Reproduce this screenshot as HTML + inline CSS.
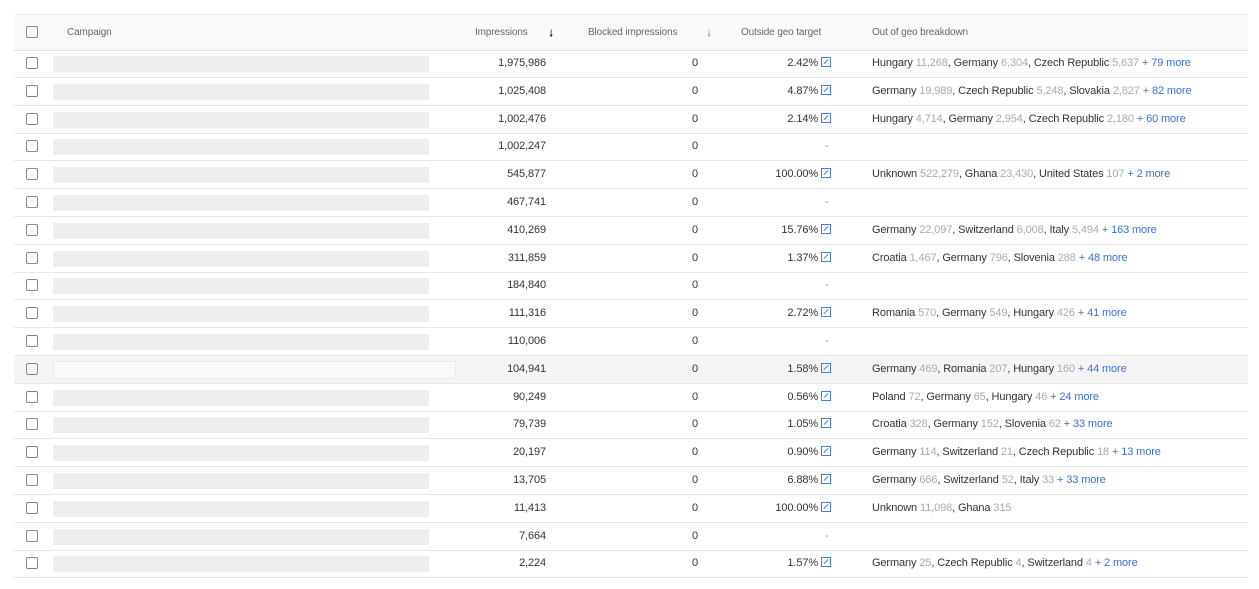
<!DOCTYPE html>
<html><head><style>
body{margin:0;width:1259px;height:589px;background:#fff;font-family:"Liberation Sans",Arial,sans-serif;font-size:11px;color:#333;position:relative;overflow:hidden}
.hdr{position:absolute;left:14px;top:14px;width:1234px;height:35px;background:#fafafa;border-top:1px solid #eee;border-bottom:1px solid #e0e0e0}
.row{position:absolute;left:14px;width:1234px;height:27px;border-bottom:1px solid #e6e6e6}
.row.hl{background:#f5f5f5}
.cb{position:absolute;left:12px;top:7px;width:10px;height:10px;border:1.5px solid #888;border-radius:2px}
.bar{position:absolute;left:39px;top:6px;width:376px;height:16px;background:#eeeeee}
.hl .bar{width:401px;background:#f9f9f9;border:1px solid #eaeaea;top:5px}
.t{position:absolute;top:7px;white-space:nowrap;letter-spacing:-0.12px}
.h{color:#666;font-size:10px;top:12px}
.r{text-align:right}
.g{color:#aaa}
.b{color:#3c6fd8}
.ic{display:inline-block;width:8px;height:8px;border:1px solid #4a7be0;margin-left:3px;vertical-align:-1px;position:relative}
.ic:after{content:"";position:absolute;left:1px;top:3px;width:6px;height:1px;background:#4a7be0;transform:rotate(-45deg)}
</style></head><body>
<div class="hdr">
<div class="cb" style="top:11px"></div>
<div class="t h" style="left:53px">Campaign</div>
<div class="t h" style="left:461px">Impressions</div>
<div class="t h" style="left:535px;color:#333">🠗</div>
<div class="t h" style="left:574px">Blocked impressions</div>
<div class="t h" style="left:693px;color:#aaa">🠗</div>
<div class="t h" style="left:727px">Outside geo target</div>
<div class="t h" style="left:858px">Out of geo breakdown</div>
</div>
<div id="rows"></div>
<script>
var d=[["1,975,986","2.42%",'Hungary <span class=g>11,268</span>, Germany <span class=g>6,304</span>, Czech Republic <span class=g>5,637</span> <span class=b>+ 79 more</span>'],
["1,025,408","4.87%",'Germany <span class=g>19,989</span>, Czech Republic <span class=g>5,248</span>, Slovakia <span class=g>2,827</span> <span class=b>+ 82 more</span>'],
["1,002,476","2.14%",'Hungary <span class=g>4,714</span>, Germany <span class=g>2,954</span>, Czech Republic <span class=g>2,180</span> <span class=b>+ 60 more</span>'],
["1,002,247","",""],
["545,877","100.00%",'Unknown <span class=g>522,279</span>, Ghana <span class=g>23,430</span>, United States <span class=g>107</span> <span class=b>+ 2 more</span>'],
["467,741","",""],
["410,269","15.76%",'Germany <span class=g>22,097</span>, Switzerland <span class=g>6,008</span>, Italy <span class=g>5,494</span> <span class=b>+ 163 more</span>'],
["311,859","1.37%",'Croatia <span class=g>1,467</span>, Germany <span class=g>796</span>, Slovenia <span class=g>288</span> <span class=b>+ 48 more</span>'],
["184,840","",""],
["111,316","2.72%",'Romania <span class=g>570</span>, Germany <span class=g>549</span>, Hungary <span class=g>426</span> <span class=b>+ 41 more</span>'],
["110,006","",""],
["104,941","1.58%",'Germany <span class=g>469</span>, Romania <span class=g>207</span>, Hungary <span class=g>160</span> <span class=b>+ 44 more</span>'],
["90,249","0.56%",'Poland <span class=g>72</span>, Germany <span class=g>65</span>, Hungary <span class=g>46</span> <span class=b>+ 24 more</span>'],
["79,739","1.05%",'Croatia <span class=g>328</span>, Germany <span class=g>152</span>, Slovenia <span class=g>62</span> <span class=b>+ 33 more</span>'],
["20,197","0.90%",'Germany <span class=g>114</span>, Switzerland <span class=g>21</span>, Czech Republic <span class=g>18</span> <span class=b>+ 13 more</span>'],
["13,705","6.88%",'Germany <span class=g>666</span>, Switzerland <span class=g>52</span>, Italy <span class=g>33</span> <span class=b>+ 33 more</span>'],
["11,413","100.00%",'Unknown <span class=g>11,098</span>, Ghana <span class=g>315</span>'],
["7,664","",""],
["2,224","1.57%",'Germany <span class=g>25</span>, Czech Republic <span class=g>4</span>, Switzerland <span class=g>4</span> <span class=b>+ 2 more</span>']];
var h="";
d.forEach(function(r,i){
var top=50+i*27.8;
h+='<div class="row'+(i==11?' hl':'')+'" style="top:'+top+'px"><div class="cb"></div><div class="bar"></div>'+
'<div class="t r" style="right:702px">'+r[0]+'</div>'+
'<div class="t r" style="right:550px">0</div>'+
(r[1]?'<div class="t r" style="right:417px">'+r[1]+'<span class="ic"></span></div>':'<div class="t" style="left:811px;color:#999">-</div>')+
'<div class="t" style="left:858px">'+r[2]+'</div></div>';
});
document.getElementById("rows").innerHTML=h;
</script>
</body></html>
